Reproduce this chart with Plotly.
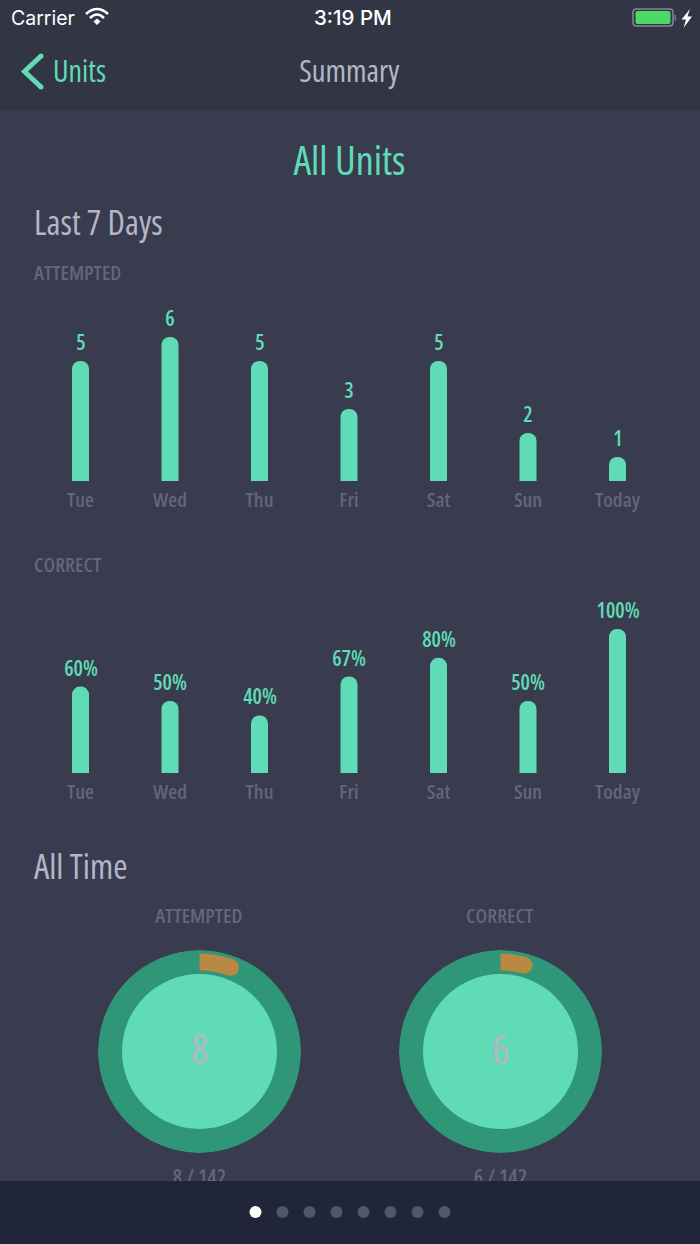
import plotly.graph_objects as go

W, H = 700, 1244

# ---- data ----
days = ["Tue", "Wed", "Thu", "Fri", "Sat", "Sun", "Today"]
attempted = [5, 6, 5, 3, 5, 2, 1]
correct_pct = [60, 50, 40, 67, 80, 50, 100]
all_time_attempted = 8
all_time_correct = 6
all_time_total = 142

# ---- style ----
BG = "#383c4e"
NAV = "#323644"
FOOT = "#20253a"
MINT = "#5fdbb5"
DARK = "#2f9678"
ORANGE = "#b98843"
MUTED = "#62667b"
LIGHT = "#b3b6c5"
NARROW = "Open Sans"
UI = "Inter"


def fx(x):
    return x / W


def fy(y):
    return (H - y) / H


def pt(x, y):
    return f"{fx(x):.5f},{fy(y):.5f}"


def path(d, **kw):
    parts = []
    for tok in d:
        if isinstance(tok, str):
            parts.append(tok)
        else:
            parts.append(pt(*tok))
    base = dict(type="path", xref="paper", yref="paper", path=" ".join(parts), layer="below")
    base.update(kw)
    return base


def rect(x0, y0, x1, y1, color):
    return dict(type="rect", xref="paper", yref="paper", x0=fx(x0), x1=fx(x1), y0=fy(y1), y1=fy(y0),
                fillcolor=color, line=dict(width=0), layer="below")


def circle(cx, cy, r, color):
    return dict(type="circle", xref="paper", yref="paper", x0=fx(cx - r), x1=fx(cx + r), y0=fy(cy + r), y1=fy(cy - r),
                fillcolor=color, line=dict(width=0), layer="below")


def rrect(x0, y0, x1, y1, r):
    return ["M", (x0 + r, y0), "L", (x1 - r, y0), "Q", (x1, y0), (x1, y0 + r), "L", (x1, y1 - r), "Q", (x1, y1), (x1 - r, y1),
            "L", (x0 + r, y1), "Q", (x0, y1), (x0, y1 - r), "L", (x0, y0 + r), "Q", (x0, y0), (x0 + r, y0), "Z"]


def label(text, x, y, size, color, anchor="left", family=NARROW, weight=None):
    return dict(text=text, x=fx(x), y=fy(y), xref="paper", yref="paper", xanchor=anchor, yanchor="middle",
                showarrow=False, font=dict(family=family, size=size, color=color, weight=weight), align=anchor)


shapes = [
    rect(0, 0, W, 108, NAV),
    rect(0, 108, W, 109.5, "#2e3240"),
    rect(0, 1181, W, H, FOOT),
    # back chevron
    path(["M", (41, 56), "L", (24.5, 71.5), "L", (41, 87)], line=dict(color=MINT, width=5), fillcolor="rgba(0,0,0,0)"),
    circle(41, 56, 2.5, MINT),
    circle(41, 87, 2.5, MINT),
    # wifi
    path(["M", (86, 14), "Q", (97, 4), (108, 14)], line=dict(color="white", width=2.6), fillcolor="rgba(0,0,0,0)"),
    path(["M", (90, 18), "Q", (97, 11), (104, 18)], line=dict(color="white", width=2.6), fillcolor="rgba(0,0,0,0)"),
    path(["M", (93.5, 21.5), "L", (97, 18.5), "L", (100.5, 21.5), "L", (97, 25), "Z"], fillcolor="white", line=dict(width=0)),
    # battery
    path(rrect(633, 9, 673, 26, 3.5), line=dict(color="#85889a", width=1.5), fillcolor="rgba(0,0,0,0)"),
    path(rrect(635.5, 11, 670.5, 24, 2), fillcolor="#4cd964", line=dict(width=0)),
    rect(674.5, 15, 675.8, 20.5, "#85889a"),
    path(["M", (690, 9), "L", (681.5, 19.5), "L", (686, 19.5), "L", (683.5, 28), "L", (692, 16.5), "L", (687.5, 16.5), "Z"],
         fillcolor="white", line=dict(width=0)),
]
# pager dots
for i in range(8):
    shapes.append(circle(255.5 + 27 * i, 1212, 6, "white" if i == 0 else "#51566a"))

annotations = [
    label("Carrier", 9, 18, 19.5, "white", family=UI),
    label("3:19 PM", 353, 18, 20.5, "white", "center", family=UI, weight=500),
    label("Units", 51, 70.5, 30, MINT),
    label("Summary", 349.5, 70, 30.5, LIGHT, "center"),
    label("All Units", 349.5, 159, 40, MINT, "center"),
    label("Last 7 Days", 32, 222, 34, LIGHT),
    label("ATTEMPTED", 32, 272, 20.5, MUTED, weight=600),
    label("CORRECT", 32, 564, 20.5, MUTED, weight=600),
    label("All Time", 32, 865, 34.5, LIGHT),
    label("ATTEMPTED", 199.5, 915, 20.5, MUTED, "center", weight=600),
    label("CORRECT", 500, 915, 20.5, MUTED, "center", weight=600),
    label(str(all_time_attempted), 199.5, 1048, 41, LIGHT, "center", weight=400),
    label(str(all_time_correct), 500, 1048, 41, LIGHT, "center", weight=400),
]

for xa, ya, vals, fmt in (("x", "y", attempted, "{}"), ("x2", "y2", correct_pct, "{}%")):
    for d, v in zip(days, vals):
        annotations.append(dict(text=fmt.format(v), x=d, y=v, xref=xa, yref=ya, xanchor="center", yanchor="bottom",
                                yshift=3, showarrow=False,
                                font=dict(family=NARROW, size=21, color=MINT, weight=600)))

fig = go.Figure()
fig.add_trace(go.Bar(x=days, y=attempted, xaxis="x", yaxis="y", marker=dict(color=MINT, cornerradius=8, line=dict(width=0)),
                     hoverinfo="skip", cliponaxis=False))
fig.add_trace(go.Bar(x=days, y=correct_pct, xaxis="x2", yaxis="y2", marker=dict(color=MINT, cornerradius=8, line=dict(width=0)),
                     hoverinfo="skip", cliponaxis=False))

R_OUT, R_IN, ARC_LO, ARC_HI, CAP = 101.5, 77.5, 81, 98, 17
for sub, done in (("polar", all_time_attempted), ("polar2", all_time_correct)):
    sweep = 360 * done / all_time_total
    fig.add_trace(go.Barpolar(r=[R_OUT], theta=[180], width=[360], base=[0], subplot=sub,
                              marker=dict(color=DARK, line=dict(width=0)), hoverinfo="skip"))
    fig.add_trace(go.Barpolar(r=[R_IN], theta=[180], width=[360], base=[0], subplot=sub,
                              marker=dict(color=MINT, line=dict(width=0)), hoverinfo="skip"))
    fig.add_trace(go.Barpolar(r=[ARC_HI - ARC_LO], theta=[sweep / 2], width=[sweep], base=[ARC_LO], subplot=sub,
                              marker=dict(color=ORANGE, line=dict(width=0)), hoverinfo="skip"))
    fig.add_trace(go.Scatterpolar(r=[(ARC_HI + ARC_LO) / 2], theta=[sweep], mode="markers", subplot=sub,
                                  marker=dict(color=ORANGE, size=CAP, line=dict(width=0)), hoverinfo="skip"))

# clipped captions running under the pager bar
fig.add_trace(go.Scatter(x=[199.5, 500.5], y=[1179.5, 1179.5],
                         text=[f"{all_time_attempted} / {all_time_total}", f"{all_time_correct} / {all_time_total}"],
                         mode="text", textposition="middle center", xaxis="x3", yaxis="y3", cliponaxis=True,
                         textfont=dict(family=NARROW, size=21, color=MUTED, weight=600), hoverinfo="skip"))

tick = dict(family=NARROW, size=20.5, color=MUTED, weight=600)
xcommon = dict(domain=[fx(35.75), fx(662.25)], type="category", showgrid=False, zeroline=False, showline=False,
               ticks="", tickfont=tick, ticklabelstandoff=4, fixedrange=True)
ycommon = dict(visible=False, showgrid=False, zeroline=False, fixedrange=True)
polar_common = dict(bgcolor="rgba(0,0,0,0)", hole=0,
                    radialaxis=dict(visible=False, range=[0, R_OUT]),
                    angularaxis=dict(visible=False, rotation=90, direction="clockwise", thetaunit="degrees"))

fig.update_layout(
    width=W, height=H, autosize=False, margin=dict(l=0, r=0, t=0, b=0, pad=0),
    paper_bgcolor=BG, plot_bgcolor="rgba(0,0,0,0)", showlegend=False,
    barmode="overlay", bargap=1 - 17 / 89.5, polar_barmode="overlay", hovermode=False,
    xaxis=dict(anchor="y", **xcommon),
    yaxis=dict(anchor="x", domain=[fy(481), fy(337)], range=[0, 6], **ycommon),
    xaxis2=dict(anchor="y2", **xcommon),
    yaxis2=dict(anchor="x2", domain=[fy(773), fy(629)], range=[0, 100], **ycommon),
    xaxis3=dict(anchor="y3", domain=[0, 1], range=[0, W], visible=False, fixedrange=True),
    yaxis3=dict(anchor="x3", domain=[fy(1181), fy(1160)], range=[1181, 1160], visible=False, fixedrange=True),
    polar=dict(domain=dict(x=[fx(98), fx(301)], y=[fy(1153), fy(950)]), **polar_common),
    polar2=dict(domain=dict(x=[fx(399), fx(602)], y=[fy(1153), fy(950)]), barmode="overlay",
                **{k: v for k, v in polar_common.items()}),
    shapes=shapes, annotations=annotations,
)

post = """
document.body.style.margin='0';
document.documentElement.style.overflow='hidden';
var st=document.createElement('style');
st.textContent='svg text{font-stretch:75% !important;}';
document.head.appendChild(st);
Plotly.relayout(document.getElementById('{plot_id}'),{});
"""
fig.write_html("out.html", config=dict(displayModeBar=False, responsive=False), post_script=post)
